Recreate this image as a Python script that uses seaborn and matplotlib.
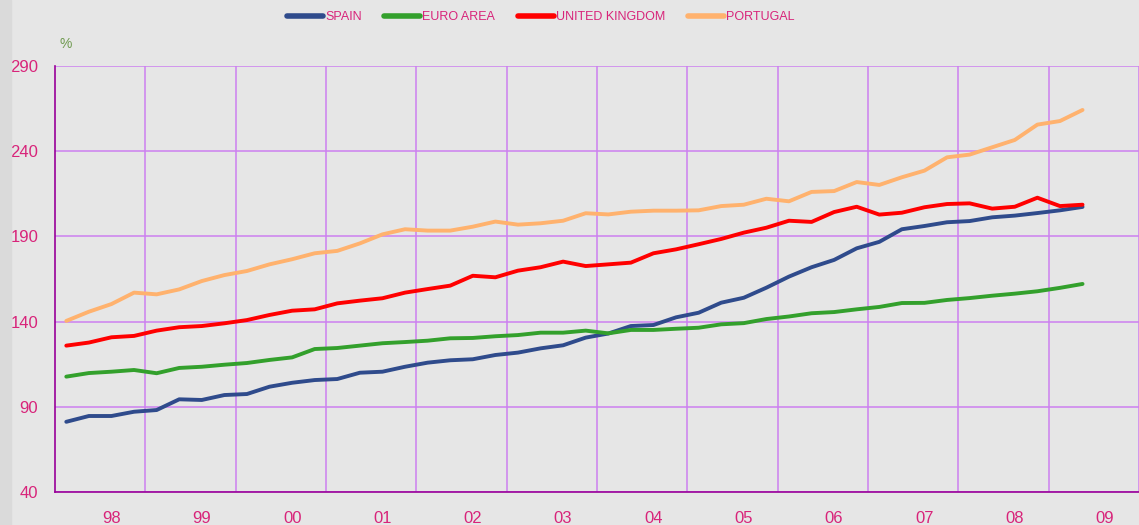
import seaborn as sns
import matplotlib.pyplot as plt
import pandas as pd
import numpy as np

# quarterly data, 1998 Q1 - 2009 Q2
quarters = pd.period_range('1998Q1', '2009Q2', freq='Q').astype(str)

spain = [81.2, 84.6, 84.6, 87.1, 88.1, 94.4, 94.0, 96.9, 97.5, 101.8,
         104.1, 105.7, 106.3, 110.0, 110.6, 113.5, 115.9, 117.3, 117.9, 120.4,
         121.8, 124.3, 126.1, 130.6, 133.0, 137.4, 138.0, 142.5, 145.2, 151.1,
         154.0, 159.9, 166.4, 171.9, 176.2, 183.0, 186.8, 194.2, 196.1, 198.3,
         199.0, 201.2, 202.2, 203.7, 205.3, 207.3]
euro_area = [107.7, 109.8, 110.6, 111.6, 109.7, 112.8, 113.5, 114.7, 115.7, 117.5,
             119.0, 123.9, 124.5, 125.9, 127.3, 128.0, 128.8, 130.2, 130.4, 131.4,
             132.1, 133.5, 133.5, 134.7, 133.1, 135.1, 135.1, 135.8, 136.4, 138.4,
             139.1, 141.5, 143.0, 144.9, 145.6, 147.2, 148.6, 150.9, 151.0, 152.7,
             153.8, 155.2, 156.4, 157.8, 159.8, 162.1]
united_kingdom = [125.9, 127.7, 130.8, 131.6, 134.7, 136.7, 137.4, 139.0, 140.9, 143.9,
                  146.4, 147.2, 150.7, 152.3, 153.7, 157.0, 159.1, 161.1, 166.9, 166.0,
                  169.9, 171.9, 175.2, 172.6, 173.6, 174.6, 180.1, 182.4, 185.4, 188.5,
                  192.2, 195.1, 199.2, 198.5, 204.3, 207.4, 202.8, 203.9, 207.1, 209.0,
                  209.4, 206.3, 207.4, 212.7, 207.8, 208.6]
portugal = [140.4, 145.8, 150.3, 157.0, 156.0, 158.9, 163.8, 167.3, 169.7, 173.6,
            176.6, 180.1, 181.5, 185.9, 191.2, 194.2, 193.4, 193.4, 195.7, 198.7,
            196.9, 197.7, 199.2, 203.6, 202.9, 204.5, 205.1, 205.1, 205.3, 207.8,
            208.6, 212.1, 210.6, 216.1, 216.6, 221.9, 220.2, 224.7, 228.6, 236.4,
            238.0, 242.3, 246.6, 255.6, 257.7, 264.2]

year_labels = ['98', '99', '00', '01', '02', '03', '04', '05', '06', '07', '08', '09']
series_names = ['SPAIN', 'EURO AREA', 'UNITED KINGDOM', 'PORTUGAL']
colors = ['#2f4b8c', '#33a02c', '#ff0000', '#ffb26e']

df = pd.DataFrame({'t': np.arange(len(quarters)), 'SPAIN': spain, 'EURO AREA': euro_area,
                   'UNITED KINGDOM': united_kingdom, 'PORTUGAL': portugal})
long = df.melt(id_vars='t', value_vars=series_names, var_name='Series', value_name='Value')

bg = '#e6e6e6'
grid_c = '#cc80f0'
spine_c = '#990099'
txt_c = '#d8247a'

sns.set_style('white')
plt.rcParams['font.family'] = ['Liberation Sans', 'DejaVu Sans']

fig = plt.figure(figsize=(11.39, 5.25), dpi=100, facecolor=bg)
fig.patches.append(plt.Rectangle((0, 0), 11 / 1139, 1, transform=fig.transFigure,
                                 color='#dadada', zorder=0))
ax = fig.add_axes([55 / 1139, 1 - 492 / 525, 1 - 55 / 1139, (492 - 66) / 525])
ax.set_facecolor(bg)

sns.lineplot(data=long, x='t', y='Value', hue='Series', hue_order=series_names,
             palette=colors, linewidth=2.8, ax=ax, legend=False)

ax.set_xlim(-0.5, 47.5)
ax.set_ylim(40, 290)
ax.set_yticks([40, 90, 140, 190, 240, 290])
ax.set_xticks(np.arange(3.5, 48, 4))
ax.set_xticklabels([])
# year labels sit a little right of the year centre, as in the original
ax.set_xticks(np.arange(2.0, 48, 4), minor=True)
ax.set_xticklabels(year_labels, minor=True)
ax.tick_params(axis='x', which='minor', length=0, pad=14, labelsize=12, labelcolor=txt_c)
ax.tick_params(axis='x', which='major', direction='in', length=4, color=spine_c)
ax.tick_params(axis='y', direction='in', length=5, color=spine_c, pad=12,
               labelsize=12, labelcolor=txt_c)
ax.grid(True, which='major', color=grid_c, linewidth=1.1)
ax.set_axisbelow(True)
ax.set_xlabel('')
ax.set_ylabel('')

for s in ['top', 'right']:
    ax.spines[s].set_visible(False)
for s in ['left', 'bottom']:
    ax.spines[s].set_color(spine_c)
    ax.spines[s].set_linewidth(1.2)

fig.text(60 / 1139, 1 - 44 / 525, '%', color='#6f9a50', fontsize=10, va='center')

handles = [plt.Line2D([], [], color=c, linewidth=4) for c in colors]
leg = fig.legend(handles, series_names, loc='center', bbox_to_anchor=(0.4746, 0.967),
                 ncol=4, frameon=False, fontsize=9, handlelength=2.9,
                 handletextpad=0.15, columnspacing=1.8)
for t in leg.get_texts():
    t.set_color(txt_c)

fig.savefig('out.png', dpi=100, facecolor=bg)
